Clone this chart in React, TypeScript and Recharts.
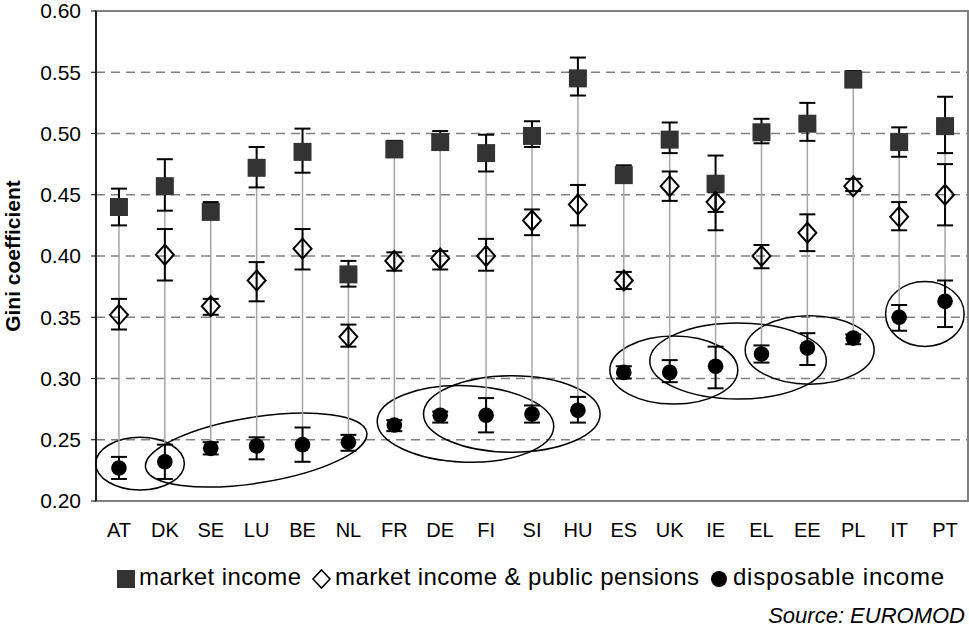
import {
  ComposedChart,
  Line,
  XAxis,
  YAxis,
  CartesianGrid,
  ErrorBar,
  ReferenceArea,
  Label,
} from "recharts";

const FONT = "'Liberation Sans', Arial, sans-serif";

const countries = ["AT", "DK", "SE", "LU", "BE", "NL", "FR", "DE", "FI", "SI", "HU", "ES", "UK", "IE", "EL", "EE", "PL", "IT", "PT"];

const market = [0.44, 0.457, 0.436, 0.472, 0.485, 0.385, 0.487, 0.493, 0.484, 0.498, 0.545, 0.466, 0.495, 0.459, 0.501, 0.508, 0.544, 0.493, 0.506];
const marketLow = [0.425, 0.437, 0.43, 0.456, 0.468, 0.375, 0.481, 0.487, 0.469, 0.489, 0.531, 0.46, 0.484, 0.436, 0.492, 0.494, 0.538, 0.481, 0.484];
const marketHigh = [0.455, 0.479, 0.444, 0.489, 0.504, 0.396, 0.494, 0.502, 0.499, 0.51, 0.562, 0.474, 0.509, 0.482, 0.512, 0.525, 0.551, 0.505, 0.53];

const pensions = [0.352, 0.401, 0.359, 0.38, 0.406, 0.334, 0.396, 0.398, 0.4, 0.429, 0.442, 0.38, 0.457, 0.444, 0.4, 0.419, 0.457, 0.432, 0.45];
const pensionsLow = [0.34, 0.38, 0.352, 0.363, 0.389, 0.326, 0.388, 0.389, 0.388, 0.417, 0.425, 0.373, 0.445, 0.421, 0.39, 0.404, 0.453, 0.421, 0.425];
const pensionsHigh = [0.365, 0.422, 0.365, 0.395, 0.422, 0.344, 0.403, 0.404, 0.414, 0.438, 0.458, 0.387, 0.469, 0.452, 0.409, 0.434, 0.463, 0.444, 0.475];

const disposable = [0.227, 0.232, 0.243, 0.245, 0.246, 0.248, 0.262, 0.27, 0.27, 0.271, 0.274, 0.305, 0.305, 0.31, 0.32, 0.325, 0.333, 0.35, 0.363];
const disposableLow = [0.218, 0.218, 0.238, 0.234, 0.232, 0.241, 0.257, 0.264, 0.256, 0.264, 0.264, 0.3, 0.297, 0.292, 0.313, 0.311, 0.328, 0.339, 0.342];
const disposableHigh = [0.236, 0.246, 0.248, 0.252, 0.26, 0.254, 0.266, 0.273, 0.284, 0.278, 0.285, 0.31, 0.315, 0.326, 0.327, 0.337, 0.336, 0.36, 0.38];

const yTicks = [0.2, 0.25, 0.3, 0.35, 0.4, 0.45, 0.5, 0.55, 0.6];

// country groups circled in the original (centre in category/value units)
const ringX = [0.46, 2.99, 7.55, 8.56, 12.09, 13.49, 15.05, 17.56];
const ringY = [0.2305, 0.2416, 0.2629, 0.271, 0.3069, 0.3143, 0.3233, 0.3527];
const ringRx = [0.965, 2.44, 1.924, 1.924, 1.394, 1.924, 1.405, 0.856];
const ringRy = [0.0215, 0.0269, 0.0312, 0.0312, 0.0278, 0.031, 0.028, 0.0265];
const ringAngle = [0, -9, 2, 0, 0, 0, 0, 0];

const data = countries.map((c, i) => ({
  idx: i,
  market: market[i],
  marketErr: [market[i] - marketLow[i], marketHigh[i] - market[i]],
  pensions: pensions[i],
  pensionsErr: [pensions[i] - pensionsLow[i], pensionsHigh[i] - pensions[i]],
  disposable: disposable[i],
  disposableErr: [disposable[i] - disposableLow[i], disposableHigh[i] - disposable[i]],
  hlBase: disposable[i],
  hlErr: [0, market[i] - disposable[i]],
}));

const Square = (props: any) => {
  const { cx, cy, index } = props;
  return <rect key={`sq-${index}`} x={cx - 9} y={cy - 9} width={18} height={18} fill="#333333" />;
};

const Diamond = (props: any) => {
  const { cx, cy, index } = props;
  return (
    <polygon
      key={`dm-${index}`}
      points={`${cx},${cy - 10} ${cx + 9},${cy} ${cx},${cy + 10} ${cx - 9},${cy}`}
      fill="none"
      stroke="#000"
      strokeWidth={2}
    />
  );
};

const Dot = (props: any) => {
  const { cx, cy, index } = props;
  return <circle key={`ci-${index}`} cx={cx} cy={cy} r={7.8} fill="#000" />;
};

const ring = (angle: number) => (props: any) => {
  const { x, y, width, height } = props;
  const cx = x + width / 2;
  const cy = y + height / 2;
  return (
    <ellipse
      cx={cx}
      cy={cy}
      rx={Math.abs(width) / 2}
      ry={Math.abs(height) / 2}
      transform={`rotate(${angle} ${cx} ${cy})`}
      fill="none"
      stroke="#000"
      strokeWidth={1.5}
    />
  );
};

export default function App() {
  return (
    <div style={{ position: "absolute", left: 0, top: 0, width: 969, height: 629, background: "#fff", fontFamily: FONT }}>
      <ComposedChart width={969} height={629} data={data} margin={{ top: 11, right: 1, left: 0, bottom: 88 }}>
        <CartesianGrid vertical={false} stroke="#808080" strokeWidth={1.3} strokeDasharray="9 6" />
        <XAxis
          type="number"
          dataKey="idx"
          domain={[-0.5, 18.5]}
          ticks={countries.map((_, i) => i)}
          interval={0}
          tickFormatter={(v: number) => countries[v]}
          axisLine={false}
          tickLine={false}
          tickSize={0}
          tickMargin={22}
          height={40}
          tick={{ fill: "#000", fontSize: 20, fontFamily: FONT }}
        />
        <YAxis
          type="number"
          domain={[0.2, 0.6]}
          ticks={yTicks}
          interval={0}
          allowDataOverflow
          width={96}
          tickFormatter={(v: number) => v.toFixed(2)}
          axisLine={{ stroke: "#000", strokeWidth: 1.5 }}
          tickLine={{ stroke: "#000", strokeWidth: 1 }}
          tickSize={5}
          tickMargin={10}
          tick={{ fill: "#000", fontSize: 21, fontFamily: FONT }}
        >
          <Label
            content={(p: any) => {
              const vb = p.viewBox;
              const x = vb.x + 20;
              const y = vb.y + vb.height / 2;
              return (
                <text
                  x={x}
                  y={y}
                  transform={`rotate(-90, ${x}, ${y})`}
                  textAnchor="middle"
                  fontSize={21}
                  fontWeight="bold"
                  fontFamily={FONT}
                  fill="#000"
                >
                  Gini coefficient
                </text>
              );
            }}
          />
        </YAxis>
        <ReferenceArea
          x1={-0.5}
          x2={18.5}
          y1={0.2}
          y2={0.6}
          fill="none"
          fillOpacity={0}
          stroke="#808080"
          strokeWidth={2}
          ifOverflow="visible"
        />
        <Line dataKey="hlBase" stroke="none" dot={false} activeDot={false} isAnimationActive={false}>
          <ErrorBar dataKey="hlErr" width={0} stroke="#a6a6a6" strokeWidth={1.5} direction="y" />
        </Line>
        <Line dataKey="market" stroke="none" dot={Square} activeDot={false} isAnimationActive={false}>
          <ErrorBar dataKey="marketErr" width={8} stroke="#000" strokeWidth={2} direction="y" />
        </Line>
        <Line dataKey="pensions" stroke="none" dot={Diamond} activeDot={false} isAnimationActive={false}>
          <ErrorBar dataKey="pensionsErr" width={8} stroke="#000" strokeWidth={2} direction="y" />
        </Line>
        <Line dataKey="disposable" stroke="none" dot={Dot} activeDot={false} isAnimationActive={false}>
          <ErrorBar dataKey="disposableErr" width={8} stroke="#000" strokeWidth={2} direction="y" />
        </Line>
        {ringX.map((cx, i) => (
          <ReferenceArea
            key={`ring-${i}`}
            x1={cx - ringRx[i]}
            x2={cx + ringRx[i]}
            y1={ringY[i] - ringRy[i]}
            y2={ringY[i] + ringRy[i]}
            ifOverflow="visible"
            shape={ring(ringAngle[i])}
          />
        ))}
      </ComposedChart>
      <svg width={969} height={629} style={{ position: "absolute", left: 0, top: 0, pointerEvents: "none" }}>
        <g fontFamily={FONT} fontSize={24} fill="#000">
          <rect x={117} y={570} width={18} height={18} fill="#333333" />
          <text x={139} y={585} textLength={162} lengthAdjust="spacing">market income</text>
          <polygon points="321.5,570 330,579 321.5,588 313,579" fill="none" stroke="#000" strokeWidth={1.6} />
          <text x={335} y={585} textLength={364} lengthAdjust="spacing">market income &amp; public pensions</text>
          <circle cx={719} cy={579} r={8} fill="#000" />
          <text x={733} y={585} textLength={211} lengthAdjust="spacing">disposable income</text>
        </g>
        <text x={965} y={623} textAnchor="end" fontFamily={FONT} fontSize={22} fontStyle="italic" fill="#000">
          Source: EUROMOD
        </text>
      </svg>
    </div>
  );
}
